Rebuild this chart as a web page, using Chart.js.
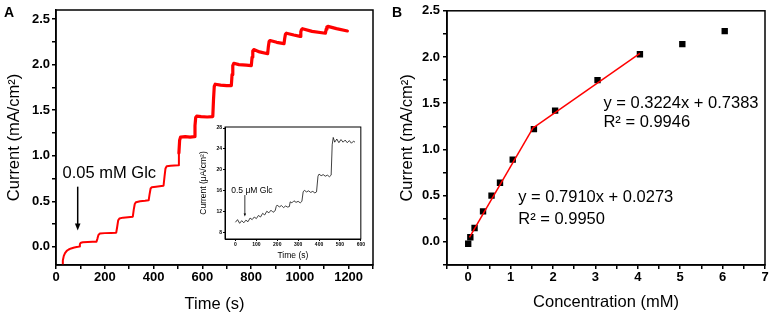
<!DOCTYPE html>
<html>
<head>
<meta charset="utf-8">
<script src="https://cdn.jsdelivr.net/npm/chart.js@4.4.0/dist/chart.umd.min.js"></script>
<style>
  html, body { margin: 0; padding: 0; background: #fff; }
  #wrap { position: relative; width: 772px; height: 317px; overflow: hidden; }
  canvas { position: absolute; }
</style>
</head>
<body>
<div id="wrap">
  <canvas id="chartA" width="386" height="317" style="left:0;top:0"></canvas>
  <canvas id="inset" width="172" height="142" style="left:194px;top:122px"></canvas>
  <canvas id="chartB" width="386" height="317" style="left:386px;top:0"></canvas>
</div>
<script>
// panel A - current vs time, successive 0.05 mM glucose additions
const timeA = [
  25, 28, 32, 37, 44, 52, 62, 75, 90, 95, 98, 102, 110, 130, 150, 166,
  170, 174, 180, 200, 225, 247,
  251, 255, 260, 275, 295, 315,
  319, 323, 328, 345, 365, 380,
  384, 388, 393, 410, 425, 441,
  445, 449, 454, 470, 485, 501,
  504, 507, 511, 530, 550, 567,
  570, 573, 577, 595, 620, 643,
  646, 649, 653, 675, 700, 719,
  722, 725, 729, 750, 780, 801,
  804, 807, 811, 835, 868,
  871, 874, 878, 905, 935,
  938, 941, 945, 975, 1001,
  1004, 1007, 1011, 1050, 1105,
  1108, 1111, 1115, 1150, 1195
];
const currentA = [
  -0.21, -0.15, -0.10, -0.07, -0.045, -0.03, -0.018, -0.008, 0.0, 0.003, 0.03, 0.045, 0.05, 0.052, 0.055, 0.056,
  0.09, 0.13, 0.145, 0.15, 0.152, 0.155,
  0.22, 0.29, 0.31, 0.32, 0.325, 0.33,
  0.41, 0.47, 0.49, 0.50, 0.505, 0.51,
  0.58, 0.64, 0.655, 0.66, 0.665, 0.67,
  0.77, 0.86, 0.885, 0.89, 0.893, 0.895,
  1.03, 1.17, 1.205, 1.21, 1.205, 1.21,
  1.33, 1.42, 1.435, 1.43, 1.425, 1.43,
  1.62, 1.76, 1.785, 1.775, 1.77, 1.77,
  1.89, 1.99, 2.015, 2.0, 1.995, 1.99,
  2.08, 2.15, 2.165, 2.14, 2.12,
  2.20, 2.255, 2.265, 2.245, 2.23,
  2.29, 2.335, 2.345, 2.325, 2.31,
  2.36, 2.385, 2.395, 2.365, 2.345,
  2.39, 2.415, 2.42, 2.395, 2.37
];
const timeTicksA = [0, 100, 200, 300, 400, 500, 600, 700, 800, 900, 1000, 1100, 1200, 1300];
const timeLabelsA = [0, 200, 400, 600, 800, 1000, 1200];
const curTicksA = [0, 0.25, 0.5, 0.75, 1, 1.25, 1.5, 1.75, 2, 2.25, 2.5];
const curLabelsA = [0, 0.5, 1, 1.5, 2, 2.5];

// inset - low concentration (0.5 uM) additions
const insetTime = [
  0, 10, 20, 30, 40, 50, 60, 70, 80, 90, 100, 110, 120, 130, 140, 150, 160, 170, 180, 190,
  195, 200, 210, 220, 230, 240, 250, 258,
  262, 270, 280, 290, 300, 310, 318,
  324, 330, 340, 350, 360, 370, 380, 388,
  395, 400, 410, 420, 430, 440, 450, 458,
  463, 468, 475, 485, 495, 505, 515, 525, 535, 545, 555, 565, 572
];
const insetCurrent = [
  10.0, 10.5, 9.8, 10.3, 9.9, 10.4, 10.1, 10.8, 10.5, 11.0, 10.7, 11.3, 11.0, 11.7, 11.4, 12.1, 11.8, 12.3, 11.9, 12.2,
  13.0, 13.3, 12.9, 13.2, 12.8, 13.1, 12.9, 13.0,
  13.9, 13.7, 14.1, 13.8, 14.0, 13.7, 14.0,
  15.8, 16.1, 15.8, 16.0, 15.7, 15.9, 15.6, 15.8,
  18.8, 19.2, 18.9, 19.1, 18.8, 19.0, 18.7, 19.0,
  24.8, 26.2, 25.3, 25.9, 25.2, 25.8, 25.3, 25.7, 25.2, 25.6, 25.1, 25.5, 25.3
];
const insetTimeTicks = [0, 100, 200, 300, 400, 500, 600];
const insetCurTicks = [8, 12, 16, 20, 24, 28];

// panel B - calibration
const concB = [0, 0.05, 0.15, 0.35, 0.55, 0.75, 1.05, 1.55, 2.05, 3.05, 4.05, 5.05, 6.05];
const currentB = [-0.02, 0.05, 0.15, 0.33, 0.50, 0.64, 0.89, 1.22, 1.42, 1.75, 2.03, 2.14, 2.28];
const fitLow = [[0.03, 0.05], [1.55, 1.25]];
const fitHigh = [[1.55, 1.24], [4.05, 2.04]];
const concTicksB = [-0.5, 0, 0.5, 1, 1.5, 2, 2.5, 3, 3.5, 4, 4.5, 5, 5.5, 6, 6.5, 7];
const concLabelsB = [0, 1, 2, 3, 4, 5, 6, 7];
const curTicksB = [-0.25, 0, 0.25, 0.5, 0.75, 1, 1.25, 1.5, 1.75, 2, 2.25, 2.5];
const curLabelsB = [0, 0.5, 1, 1.5, 2, 2.5];

const FONT = '"Liberation Sans", Arial, sans-serif';

const framePlugin = {
  id: 'frame',
  afterDraw(chart, args, opts) {
    const { ctx, chartArea: a } = chart;
    ctx.save();
    ctx.strokeStyle = '#000';
    ctx.lineWidth = opts.width;
    ctx.strokeRect(a.left, a.top, a.right - a.left, a.bottom - a.top);
    ctx.restore();
  }
};

const notesPlugin = {
  id: 'notes',
  afterDraw(chart, args, opts) {
    const { ctx, scales: { x, y } } = chart;
    ctx.save();
    ctx.fillStyle = '#000';
    ctx.strokeStyle = '#000';
    ctx.textBaseline = 'middle';
    ctx.textAlign = 'left';
    ctx.font = opts.font;
    (opts.texts || []).forEach(n => {
      ctx.fillText(n.text, x.getPixelForValue(n.x), y.getPixelForValue(n.y));
    });
    (opts.arrows || []).forEach(a => {
      const px = x.getPixelForValue(a.x);
      const y0 = y.getPixelForValue(a.from);
      const y1 = y.getPixelForValue(a.to);
      const h = opts.head;
      ctx.lineWidth = opts.lineWidth;
      ctx.beginPath();
      ctx.moveTo(px, y0);
      ctx.lineTo(px, y1 - h + 1);
      ctx.stroke();
      ctx.beginPath();
      ctx.moveTo(px - h * 0.4, y1 - h);
      ctx.lineTo(px + h * 0.4, y1 - h);
      ctx.lineTo(px, y1);
      ctx.closePath();
      ctx.fill();
    });
    if (opts.letter) {
      ctx.font = 'bold 14px ' + FONT;
      ctx.fillText(opts.letter.text, opts.letter.x, opts.letter.y);
    }
    ctx.restore();
  }
};

function axis(o) {
  return {
    type: 'linear',
    min: o.min,
    max: o.max,
    afterBuildTicks: s => { s.ticks = o.ticks.map(v => ({ value: v })); },
    afterFit: s => { if (o.width) s.width = o.width; if (o.height) s.height = o.height; },
    grid: { drawOnChartArea: false, drawTicks: true, tickLength: o.tickLength, color: '#000', lineWidth: o.line },
    border: { display: true, color: '#000', width: o.line },
    ticks: {
      autoSkip: false, maxRotation: 0, padding: o.pad, color: '#000',
      font: { family: FONT, size: o.tickSize, weight: 'bold' },
      callback: v => o.labels.includes(v) ? o.fmt(v) : ''
    },
    title: {
      display: true, text: o.title, color: '#000',
      font: { family: FONT, size: o.titleSize },
      padding: o.titlePad
    }
  };
}

const xy = (xs, ys) => xs.map((v, i) => ({ x: v, y: ys[i] }));
const pts = arr => arr.map(p => ({ x: p[0], y: p[1] }));

Chart.defaults.animation = false;

new Chart(document.getElementById('chartA'), {
  type: 'line',
  data: {
    datasets: [{
      data: xy(timeA, currentA),
      borderColor: '#ff0000',
      borderWidth: 2,
      borderJoinStyle: 'round',
      borderCapStyle: 'round',
      pointRadius: 0,
      tension: 0,
      segment: { borderWidth: c => c.p0.parsed.y > 1.0 ? 3.2 : 2 }
    }]
  },
  options: {
    responsive: false,
    parsing: false,
    layout: { padding: { top: 10, right: 13, left: 0, bottom: 0 } },
    plugins: {
      legend: { display: false },
      tooltip: { enabled: false },
      frame: { width: 1.5 },
      notes: {
        font: '16.5px ' + FONT,
        head: 7, lineWidth: 1.5,
        texts: [{ text: '0.05 mM Glc', x: 27, y: 0.81 }],
        arrows: [{ x: 89, from: 0.66, to: 0.18 }],
        letter: { text: 'A', x: 4, y: 13 }
      }
    },
    scales: {
      x: axis({ min: 0, max: 1300, ticks: timeTicksA, labels: timeLabelsA, fmt: v => String(v),
        height: 52, tickLength: 4, line: 1.5, pad: 1, tickSize: 13,
        title: 'Time (s)', titleSize: 16.5, titlePad: { top: 0, bottom: 3 } }),
      y: axis({ min: -0.2, max: 2.6, ticks: curTicksA, labels: curLabelsA, fmt: v => v.toFixed(1),
        width: 56, tickLength: 4, line: 1.5, pad: 2, tickSize: 13,
        title: 'Current (mA/cm²)', titleSize: 16.5, titlePad: { top: 5, bottom: 0 } })
    }
  },
  plugins: [framePlugin, notesPlugin]
});

new Chart(document.getElementById('inset'), {
  type: 'line',
  data: {
    datasets: [{
      data: xy(insetTime, insetCurrent),
      borderColor: '#111',
      borderWidth: 0.8,
      pointRadius: 0,
      tension: 0
    }]
  },
  options: {
    responsive: false,
    parsing: false,
    layout: { padding: { top: 5, right: 5, left: 0, bottom: 0 } },
    plugins: {
      legend: { display: false },
      tooltip: { enabled: false },
      frame: { width: 1 },
      notes: {
        font: '8.5px ' + FONT,
        head: 3, lineWidth: 0.8,
        texts: [{ text: '0.5 μM Glc', x: -20, y: 16.05 }],
        arrows: [{ x: 45, from: 15.2, to: 11.1 }]
      }
    },
    scales: {
      x: axis({ min: -50, max: 600, ticks: insetTimeTicks, labels: insetTimeTicks, fmt: v => String(v),
        height: 25, tickLength: 2, line: 1, pad: 1, tickSize: 5,
        title: 'Time (s)', titleSize: 8.5, titlePad: { top: 0, bottom: 3 } }),
      y: axis({ min: 6.8, max: 28.2, ticks: insetCurTicks, labels: insetCurTicks, fmt: v => String(v),
        width: 31, tickLength: 2, line: 1, pad: 1, tickSize: 5,
        title: 'Current (μA/cm²)', titleSize: 8.5, titlePad: { top: 5, bottom: 0 } })
    }
  },
  plugins: [framePlugin, notesPlugin]
});

new Chart(document.getElementById('chartB'), {
  type: 'scatter',
  data: {
    datasets: [
      {
        data: pts(fitLow), showLine: true, borderColor: '#ff0000', borderWidth: 1.5, pointRadius: 0
      },
      {
        data: pts(fitHigh), showLine: true, borderColor: '#ff0000', borderWidth: 1.5, pointRadius: 0
      },
      {
        data: xy(concB, currentB), pointStyle: 'rect', pointRadius: 4.5,
        backgroundColor: '#000', borderColor: '#000', borderWidth: 0
      }
    ]
  },
  options: {
    responsive: false,
    parsing: false,
    layout: { padding: { top: 10, right: 7, left: 0, bottom: 0 } },
    plugins: {
      legend: { display: false },
      tooltip: { enabled: false },
      frame: { width: 1.5 },
      notes: {
        font: '16.5px ' + FONT,
        head: 7, lineWidth: 1.5,
        texts: [
          { text: 'y = 0.3224x + 0.7383', x: 3.19, y: 1.5 },
          { text: 'R² = 0.9946', x: 3.19, y: 1.29 },
          { text: 'y = 0.7910x + 0.0273', x: 1.18, y: 0.476 },
          { text: 'R² = 0.9950', x: 1.18, y: 0.238 }
        ],
        letter: { text: 'B', x: 6, y: 13 }
      }
    },
    scales: {
      x: axis({ min: -0.5, max: 7, ticks: concTicksB, labels: concLabelsB, fmt: v => String(v),
        height: 52, tickLength: 4, line: 1.5, pad: 1, tickSize: 13,
        title: 'Concentration (mM)', titleSize: 16.5, titlePad: { top: 0, bottom: 5 } }),
      y: axis({ min: -0.25, max: 2.5, ticks: curTicksB, labels: curLabelsB, fmt: v => v.toFixed(1),
        width: 61, tickLength: 4, line: 1.5, pad: 3, tickSize: 13,
        title: 'Current (mA/cm²)', titleSize: 16.5, titlePad: { top: 12, bottom: 0 } })
    }
  },
  plugins: [framePlugin, notesPlugin]
});
</script>
</body>
</html>
